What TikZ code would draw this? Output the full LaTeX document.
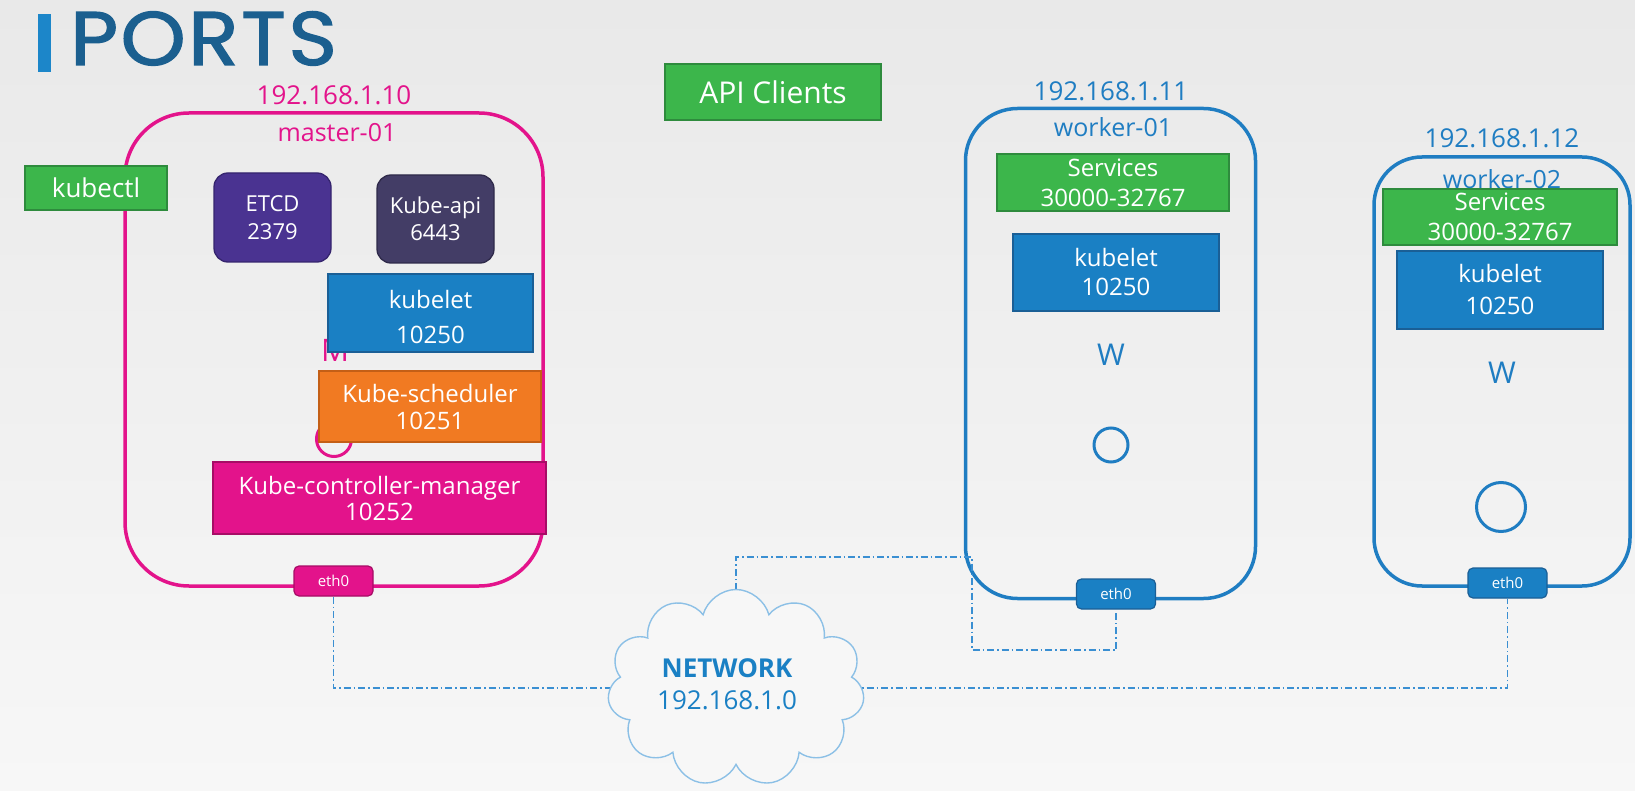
\documentclass[tikz,border=0pt]{standalone}
\usepackage{fontspec}
\setmainfont{Open Sans}
\newfontfamily\titlefont[FakeBold=1.6,LetterSpace=3]{Poppins}
\usetikzlibrary{shapes.symbols}

\definecolor{bgtop}{HTML}{E9E9E9}
\definecolor{bgbot}{HTML}{F7F7F7}
\definecolor{titleblue}{HTML}{1B5F8F}
\definecolor{barblue}{HTML}{1C86C9}
\definecolor{mag}{HTML}{E3138B}
\definecolor{magdark}{HTML}{A70C66}
\definecolor{wblue}{HTML}{1F7DC2}
\definecolor{kblue}{HTML}{1A80C4}
\definecolor{kbluedark}{HTML}{1A5F96}
\definecolor{kgreen}{HTML}{3CB64B}
\definecolor{kgreendark}{HTML}{2E8B3D}
\definecolor{etcdfill}{HTML}{4A3391}
\definecolor{etcddark}{HTML}{35246E}
\definecolor{apifill}{HTML}{433D66}
\definecolor{apidark}{HTML}{2F2A4A}
\definecolor{schedfill}{HTML}{F17A22}
\definecolor{scheddark}{HTML}{C45F16}
\definecolor{cloudline}{HTML}{8CC0E6}
\definecolor{netline}{HTML}{3A8FD2}

\newcommand\fsz[2]{\fontsize{#1}{#2}\selectfont}

\begin{document}
\begin{tikzpicture}[x=1pt,y=-1pt,
  compbox/.style={draw, line width=1.3pt, inner sep=0pt, text=white, align=center,
    font=\fsz{24}{29}},
  greenbox/.style={compbox, fill=kgreen, draw=kgreendark},
  bluebox/.style={compbox, fill=kblue, draw=kbluedark},
  boxtext/.style={inner sep=0pt, text=white, align=center, font=\fsz{24}{29}},
  ethport/.style={draw, line width=1.2pt, rounded corners=5pt, inner sep=0pt,
    minimum width=79pt, minimum height=30pt, text=white, font=\fsz{15}{18}},
  hostbox/.style={draw, line width=3.5pt, inner sep=0pt},
  hosttext/.style={inner sep=0pt, anchor=base, font=\fsz{25}{30}},
  podring/.style={circle, draw, line width=3pt, inner sep=0pt},
  netlink/.style={draw=netline, line width=1.2pt,
    dash pattern=on 7pt off 3pt on 1.5pt off 3pt}
]
\useasboundingbox (0,0) rectangle (1635,791);
\shade[top color=bgtop, bottom color=bgbot] (0,0) rectangle (1635,791);

% heading
\node[fill=barblue, minimum width=13pt, minimum height=58pt, inner sep=0pt] (bar) at (44.5,43) {};
\node[anchor=base west, inner sep=0pt, text=titleblue, font=\titlefont\fsz{76}{76}, xscale=1.09] (title) at (70,65) {PORTS};

% ---------------- master node ----------------
\node[hostbox, draw=mag, rounded corners=64pt, minimum width=418pt, minimum height=473pt] (master) at (334,349.5) {};
\node[hosttext, text=mag, font=\fsz{26}{30}] (ipm) at (334,105) {192.168.1.10};
\node[hosttext, text=mag] (mname) at (337,142) {master-01};

\node[greenbox, minimum width=142pt, minimum height=44pt, font=\fsz{26}{30}] (kubectl) at (96,188) {kubectl};

\node[compbox, fill=etcdfill, draw=etcddark, rounded corners=14pt, minimum width=117pt, minimum height=89pt, font=\fsz{22}{28}] (etcd) at (272.5,217.5) {ETCD\\2379};
\node[compbox, fill=apifill, draw=apidark, rounded corners=14pt, minimum width=117pt, minimum height=88pt, font=\fsz{22}{27}] (kapi) at (435.5,219) {Kube-api\\6443};

\node[hosttext, text=mag, font=\fsz{31}{31}] (mlabel) at (335,362) {M};
\node[podring, draw=mag, minimum size=35pt] (mpod) at (334,439) {};

\node[bluebox, minimum width=205pt, minimum height=78pt] (mkubelet) at (430.5,313) {};
\node[boxtext] (mkubeletlbl) at (430.5,317.5) {kubelet\\[6pt]10250};
\node[compbox, fill=schedfill, draw=scheddark, minimum width=222pt, minimum height=71pt, font=\fsz{24}{27}] (sched) at (430,406.5) {Kube-scheduler\\10251};
\node[compbox, fill=mag, draw=magdark, minimum width=333pt, minimum height=72pt, font=\fsz{24}{26}] (ctrl) at (379.5,498) {Kube-controller-manager\\10252};

\node[ethport, fill=mag, draw=magdark] (eth0m) at (333.5,581) {eth0};

% ---------------- API clients ----------------
\node[greenbox, minimum width=216pt, minimum height=56pt, font=\fsz{30}{34}] (api) at (773,92) {API Clients};

% ---------------- worker-01 ----------------
\node[hostbox, draw=wblue, rounded corners=52pt, minimum width=290pt, minimum height=490pt] (w1) at (1110.5,353.5) {};
\node[hosttext, text=wblue, font=\fsz{26}{30}] (ipw1) at (1111,101) {192.168.1.11};
\node[hosttext, text=wblue] (w1name) at (1113,137) {worker-01};
\node[greenbox, minimum width=232pt, minimum height=57pt, font=\fsz{24}{30}] (svc1) at (1113,182.5) {Services\\30000-32767};
\node[bluebox, minimum width=206pt, minimum height=77pt] (kubelet1) at (1116,272.5) {kubelet\\10250};
\node[hosttext, text=wblue, font=\fsz{30}{30}] (w1label) at (1111,366) {W};
\node[podring, draw=wblue, minimum size=34pt] (w1pod) at (1111,445) {};
\node[ethport, fill=kblue, draw=kbluedark] (eth0w1) at (1116,594) {eth0};

% ---------------- worker-02 ----------------
\node[hostbox, draw=wblue, rounded corners=48pt, minimum width=256pt, minimum height=429pt] (w2) at (1502,371.5) {};
\node[hosttext, text=wblue, font=\fsz{26}{30}] (ipw2) at (1502,148) {192.168.1.12};
\node[hosttext, text=wblue] (w2name) at (1502,189) {worker-02};
\node[greenbox, minimum width=234pt, minimum height=56pt, font=\fsz{24}{30}] (svc2) at (1500,217) {Services\\30000-32767};
\node[bluebox, minimum width=206pt, minimum height=78pt, font=\fsz{24}{32}] (kubelet2) at (1500,290) {kubelet\\10250};
\node[hosttext, text=wblue, font=\fsz{30}{30}] (w2label) at (1502,383) {W};
\node[podring, draw=wblue, minimum size=49pt] (w2pod) at (1501,507) {};
\node[ethport, fill=kblue, draw=kbluedark] (eth0w2) at (1507.5,583) {eth0};

% ---------------- network ----------------
\coordinate (nettop) at (736,590);
\coordinate (bendA) at (972,557);
\coordinate (bendB) at (972,650);
\draw[netlink] (eth0m.south) |- (736,688);
\draw[netlink] (736,688) -| (eth0w2.south);
\draw[netlink] (nettop) |- (bendA) -- (bendB) -| (eth0w1.south);

\node[cloud, cloud puffs=11, aspect=1.3, draw=cloudline, fill=bgbot, line width=1.4pt,
  minimum width=257pt, minimum height=197pt, inner sep=0pt] (net) at (736,688) {};
\node[hosttext, text=kblue, font=\bfseries\fsz{26}{30}] (netname) at (727,677) {NETWORK};
\node[hosttext, text=kblue, font=\fsz{26}{30}] (netip) at (727,709) {192.168.1.0};
\end{tikzpicture}
\end{document}
